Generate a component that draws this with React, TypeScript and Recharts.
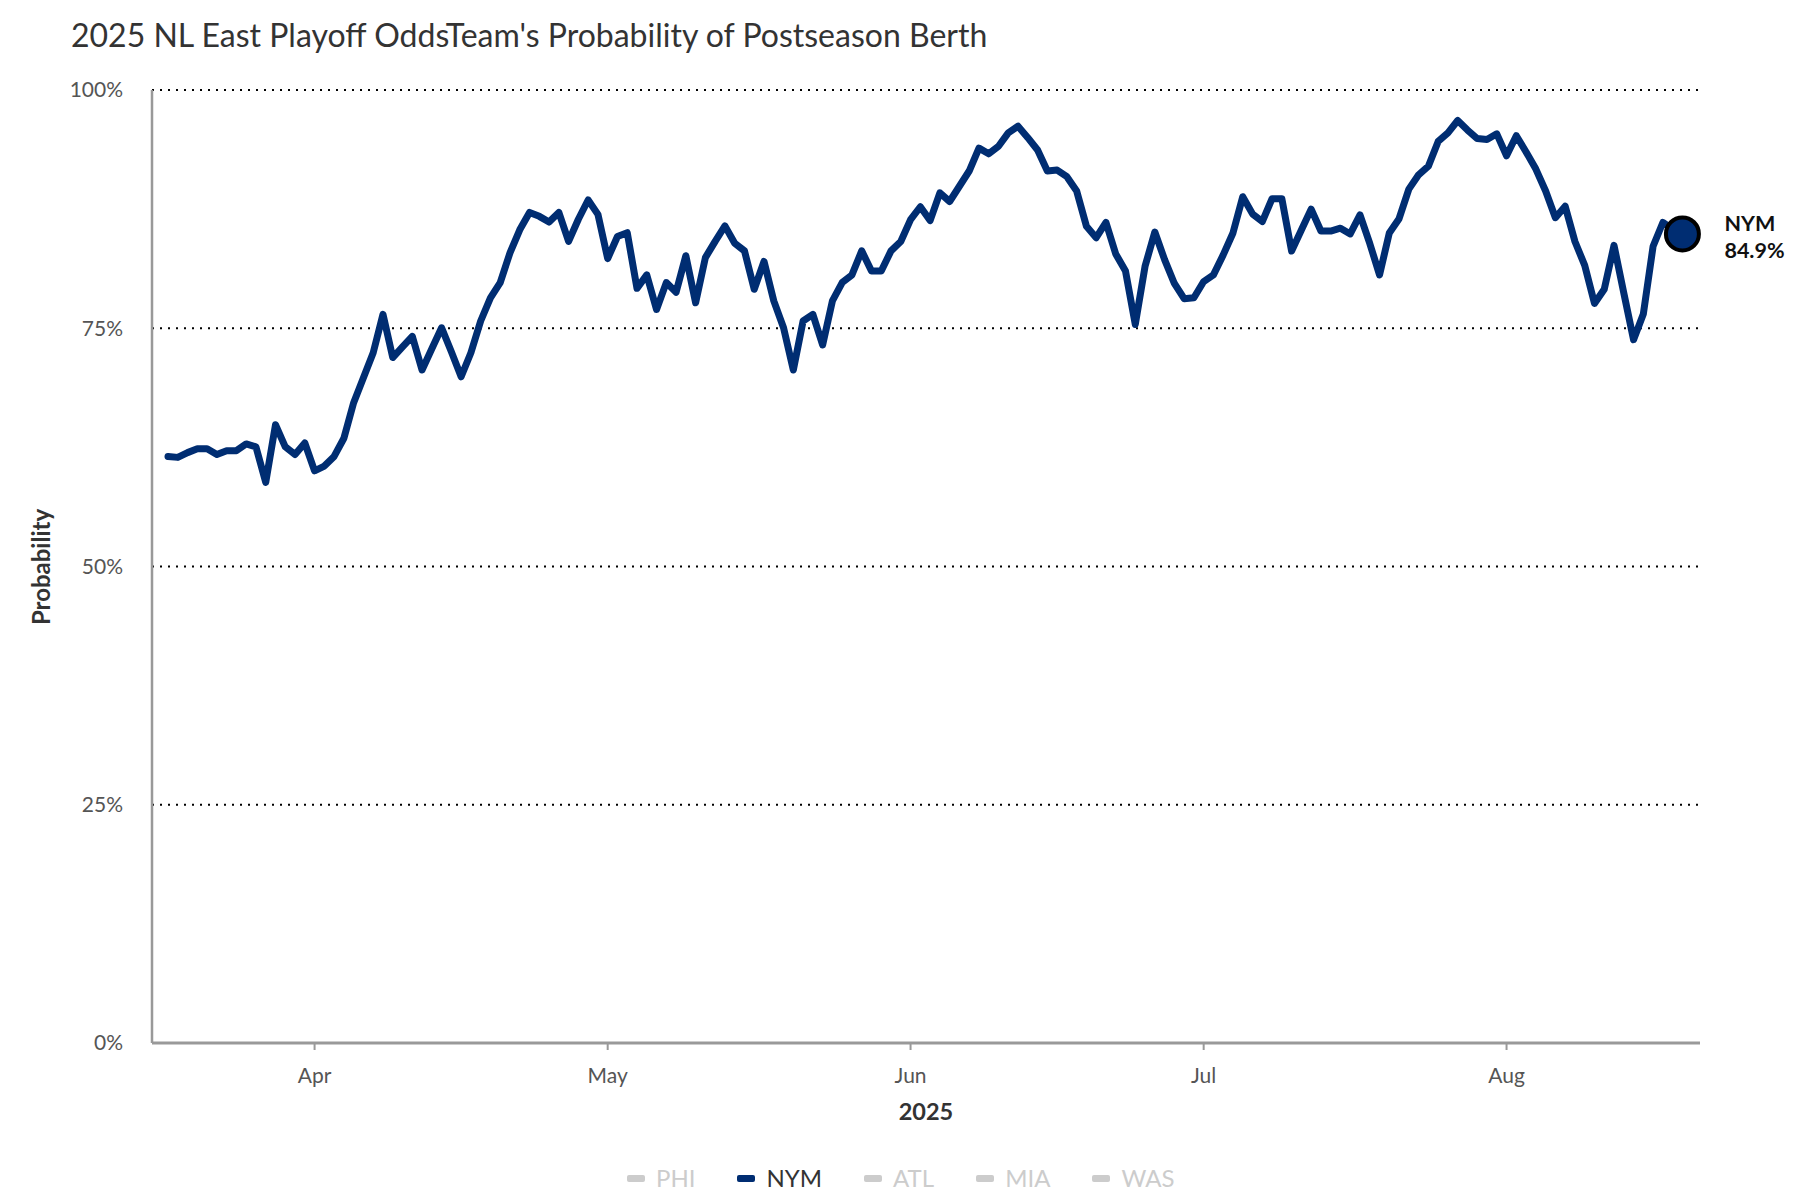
import React from 'react';
import { LineChart, Line, XAxis, YAxis, CartesianGrid, ReferenceDot } from 'recharts';

// Day of year 2025 (76 = Mar 17 ... 231 = Aug 19)
const days = [
  76, 77, 78, 79, 80, 81, 82, 83, 84, 85, 86, 87, 88, 89, 90, 91, 92, 93, 94, 95,
  96, 97, 98, 99, 100, 101, 102, 103, 104, 105, 106, 107, 108, 109, 110, 111, 112, 113, 114, 115,
  116, 117, 118, 119, 120, 121, 122, 123, 124, 125, 126, 127, 128, 129, 130, 131, 132, 133, 134, 135,
  136, 137, 138, 139, 140, 141, 142, 143, 144, 145, 146, 147, 148, 149, 150, 151, 152, 153, 154, 155,
  156, 157, 158, 159, 160, 161, 162, 163, 164, 165, 166, 167, 168, 169, 170, 171, 172, 173, 174, 175,
  176, 177, 178, 179, 180, 181, 182, 183, 184, 185, 186, 187, 188, 189, 190, 191, 192, 193, 194, 195,
  196, 197, 198, 199, 200, 201, 202, 203, 204, 205, 206, 207, 208, 209, 210, 211, 212, 213, 214, 215,
  216, 217, 218, 219, 220, 221, 222, 223, 224, 225, 226, 227, 228, 229, 230, 231,
];

const nymOdds = [
  61.55, 61.45, 61.95, 62.35, 62.35, 61.75, 62.15, 62.15, 62.86, 62.56, 58.83, 64.87, 62.56, 61.75, 62.96, 60.04, 60.54, 61.55, 63.46, 67.19,
  69.81, 72.43, 76.46, 71.93, 73.04, 74.15, 70.62, 72.84, 75.05, 72.53, 69.91, 72.43, 75.76, 78.18, 79.79, 82.91, 85.33, 87.15, 86.74, 86.14,
  87.15, 84.12, 86.44, 88.46, 86.95, 82.31, 84.63, 85.03, 79.19, 80.6, 76.97, 79.79, 78.78, 82.61, 77.67, 82.41, 84.12, 85.74, 83.92, 83.12,
  79.09, 82.01, 77.87, 75.05, 70.62, 75.76, 76.46, 73.24, 77.87, 79.79, 80.6, 83.12, 81.0, 81.0, 83.12, 84.1, 86.4, 87.75, 86.3, 89.2,
  88.3, 89.9, 91.5, 93.9, 93.3, 94.1, 95.5, 96.2, 95.0, 93.7, 91.5, 91.6, 90.9, 89.4, 85.7, 84.5, 86.1, 82.8, 81.0, 75.4,
  81.5, 85.1, 82.2, 79.7, 78.1, 78.2, 79.9, 80.6, 82.7, 85.0, 88.8, 87.0, 86.2, 88.6, 88.6, 83.1, 85.3, 87.5, 85.2, 85.2,
  85.5, 84.9, 86.9, 83.9, 80.6, 85.0, 86.5, 89.6, 91.1, 92.0, 94.6, 95.5, 96.8, 95.8, 94.9, 94.8, 95.4, 93.1, 95.2, 93.5,
  91.7, 89.4, 86.6, 87.8, 84.1, 81.6, 77.6, 79.1, 83.7, 78.7, 73.8, 76.5, 83.6, 86.1, 85.4, 84.9,
];

const monthTicks = [91, 121, 152, 182, 213];
const monthLabels = ['Apr', 'May', 'Jun', 'Jul', 'Aug'];
const yTicks = [0, 25, 50, 75, 100];
const teams = ['PHI', 'NYM', 'ATL', 'MIA', 'WAS'];
const activeTeam = 'NYM';

const titleText = "2025 NL East Playoff OddsTeam's Probability of Postseason Berth";
const NAVY = '#002D72';
const FONT = 'Lato, "Open Sans", sans-serif';

const data = days.map((d, i) => ({ day: d, NYM: nymOdds[i] }));
const lastPoint = data[data.length - 1];

const EndMarker = (props: any) => {
  const { cx, cy } = props;
  if (cx == null || cy == null) return null;
  return (
    <g>
      <circle cx={cx} cy={cy} r={16.5} fill={NAVY} stroke="#000" strokeWidth={4} />
      <text x={cx + 42} y={cy - 11} dominantBaseline="central" fontFamily={FONT} fontWeight={700} fontSize={21.5} fill="#111">
        {activeTeam}
      </text>
      <text x={cx + 42} y={cy + 16} dominantBaseline="central" fontFamily={FONT} fontWeight={700} fontSize={21.5} fill="#111">
        {`${lastPoint.NYM.toFixed(1)}%`}
      </text>
    </g>
  );
};

export default function App() {
  return (
    <div style={{ position: 'absolute', left: 0, top: 0, width: 1800, height: 1200, background: '#fff', fontFamily: FONT }}>
      <div style={{ position: 'absolute', left: 71, top: 16, fontSize: 32, lineHeight: '38px', color: '#333', whiteSpace: 'nowrap' }}>
        {titleText}
      </div>
      <div
        style={{
          position: 'absolute', left: 40, top: 567, transform: 'translate(-50%, -50%) rotate(-90deg)',
          fontSize: 24, fontWeight: 700, color: '#333', whiteSpace: 'nowrap',
        }}
      >
        Probability
      </div>
      <LineChart width={1800} height={1200} data={data} margin={{ top: 90, right: 100, bottom: 107, left: 72 }}>
        <CartesianGrid vertical={false} stroke="#000" strokeWidth={2} strokeDasharray="2 6" />
        <XAxis
          dataKey="day"
          type="number"
          domain={[74.36, 232.8]}
          allowDataOverflow
          ticks={monthTicks}
          tickFormatter={(v: number) => monthLabels[monthTicks.indexOf(v)]}
          height={50}
          axisLine={{ stroke: '#999', strokeWidth: 3 }}
          tickLine={{ stroke: '#999', strokeWidth: 2 }}
          tickSize={7}
          tickMargin={18}
          tick={{ fill: '#555', fontSize: 21, fontFamily: FONT }}
          label={{ value: '2025', position: 'bottom', offset: 10, style: { fill: '#333', fontSize: 23.5, fontWeight: 700, fontFamily: FONT } }}
        />
        <YAxis
          type="number"
          domain={[0, 100]}
          ticks={yTicks}
          tickFormatter={(v: number) => `${v}%`}
          width={80}
          axisLine={{ stroke: '#999', strokeWidth: 2.5 }}
          tickLine={false}
          tickSize={0}
          tickMargin={29}
          tick={{ fill: '#555', fontSize: 21, fontFamily: FONT }}
        />
        <Line
          type="linear"
          dataKey="NYM"
          stroke={NAVY}
          strokeWidth={7}
          strokeLinejoin="round"
          strokeLinecap="round"
          dot={false}
          activeDot={false}
          isAnimationActive={false}
        />
        <ReferenceDot x={lastPoint.day} y={lastPoint.NYM} r={16.5} shape={EndMarker} />
      </LineChart>
      <div
        style={{
          position: 'absolute', left: 627, top: 1164, height: 28, display: 'flex', alignItems: 'center',
          fontSize: 24, lineHeight: '28px', whiteSpace: 'nowrap',
        }}
      >
        {teams.map((t) => {
          const on = t === activeTeam;
          return (
            <div key={t} style={{ display: 'flex', alignItems: 'center', marginRight: 42 }}>
              <div style={{ width: 18, height: 7, borderRadius: 2, background: on ? NAVY : '#ccc', marginRight: 11 }} />
              <span style={{ color: on ? '#333' : '#ccc' }}>{t}</span>
            </div>
          );
        })}
      </div>
    </div>
  );
}
